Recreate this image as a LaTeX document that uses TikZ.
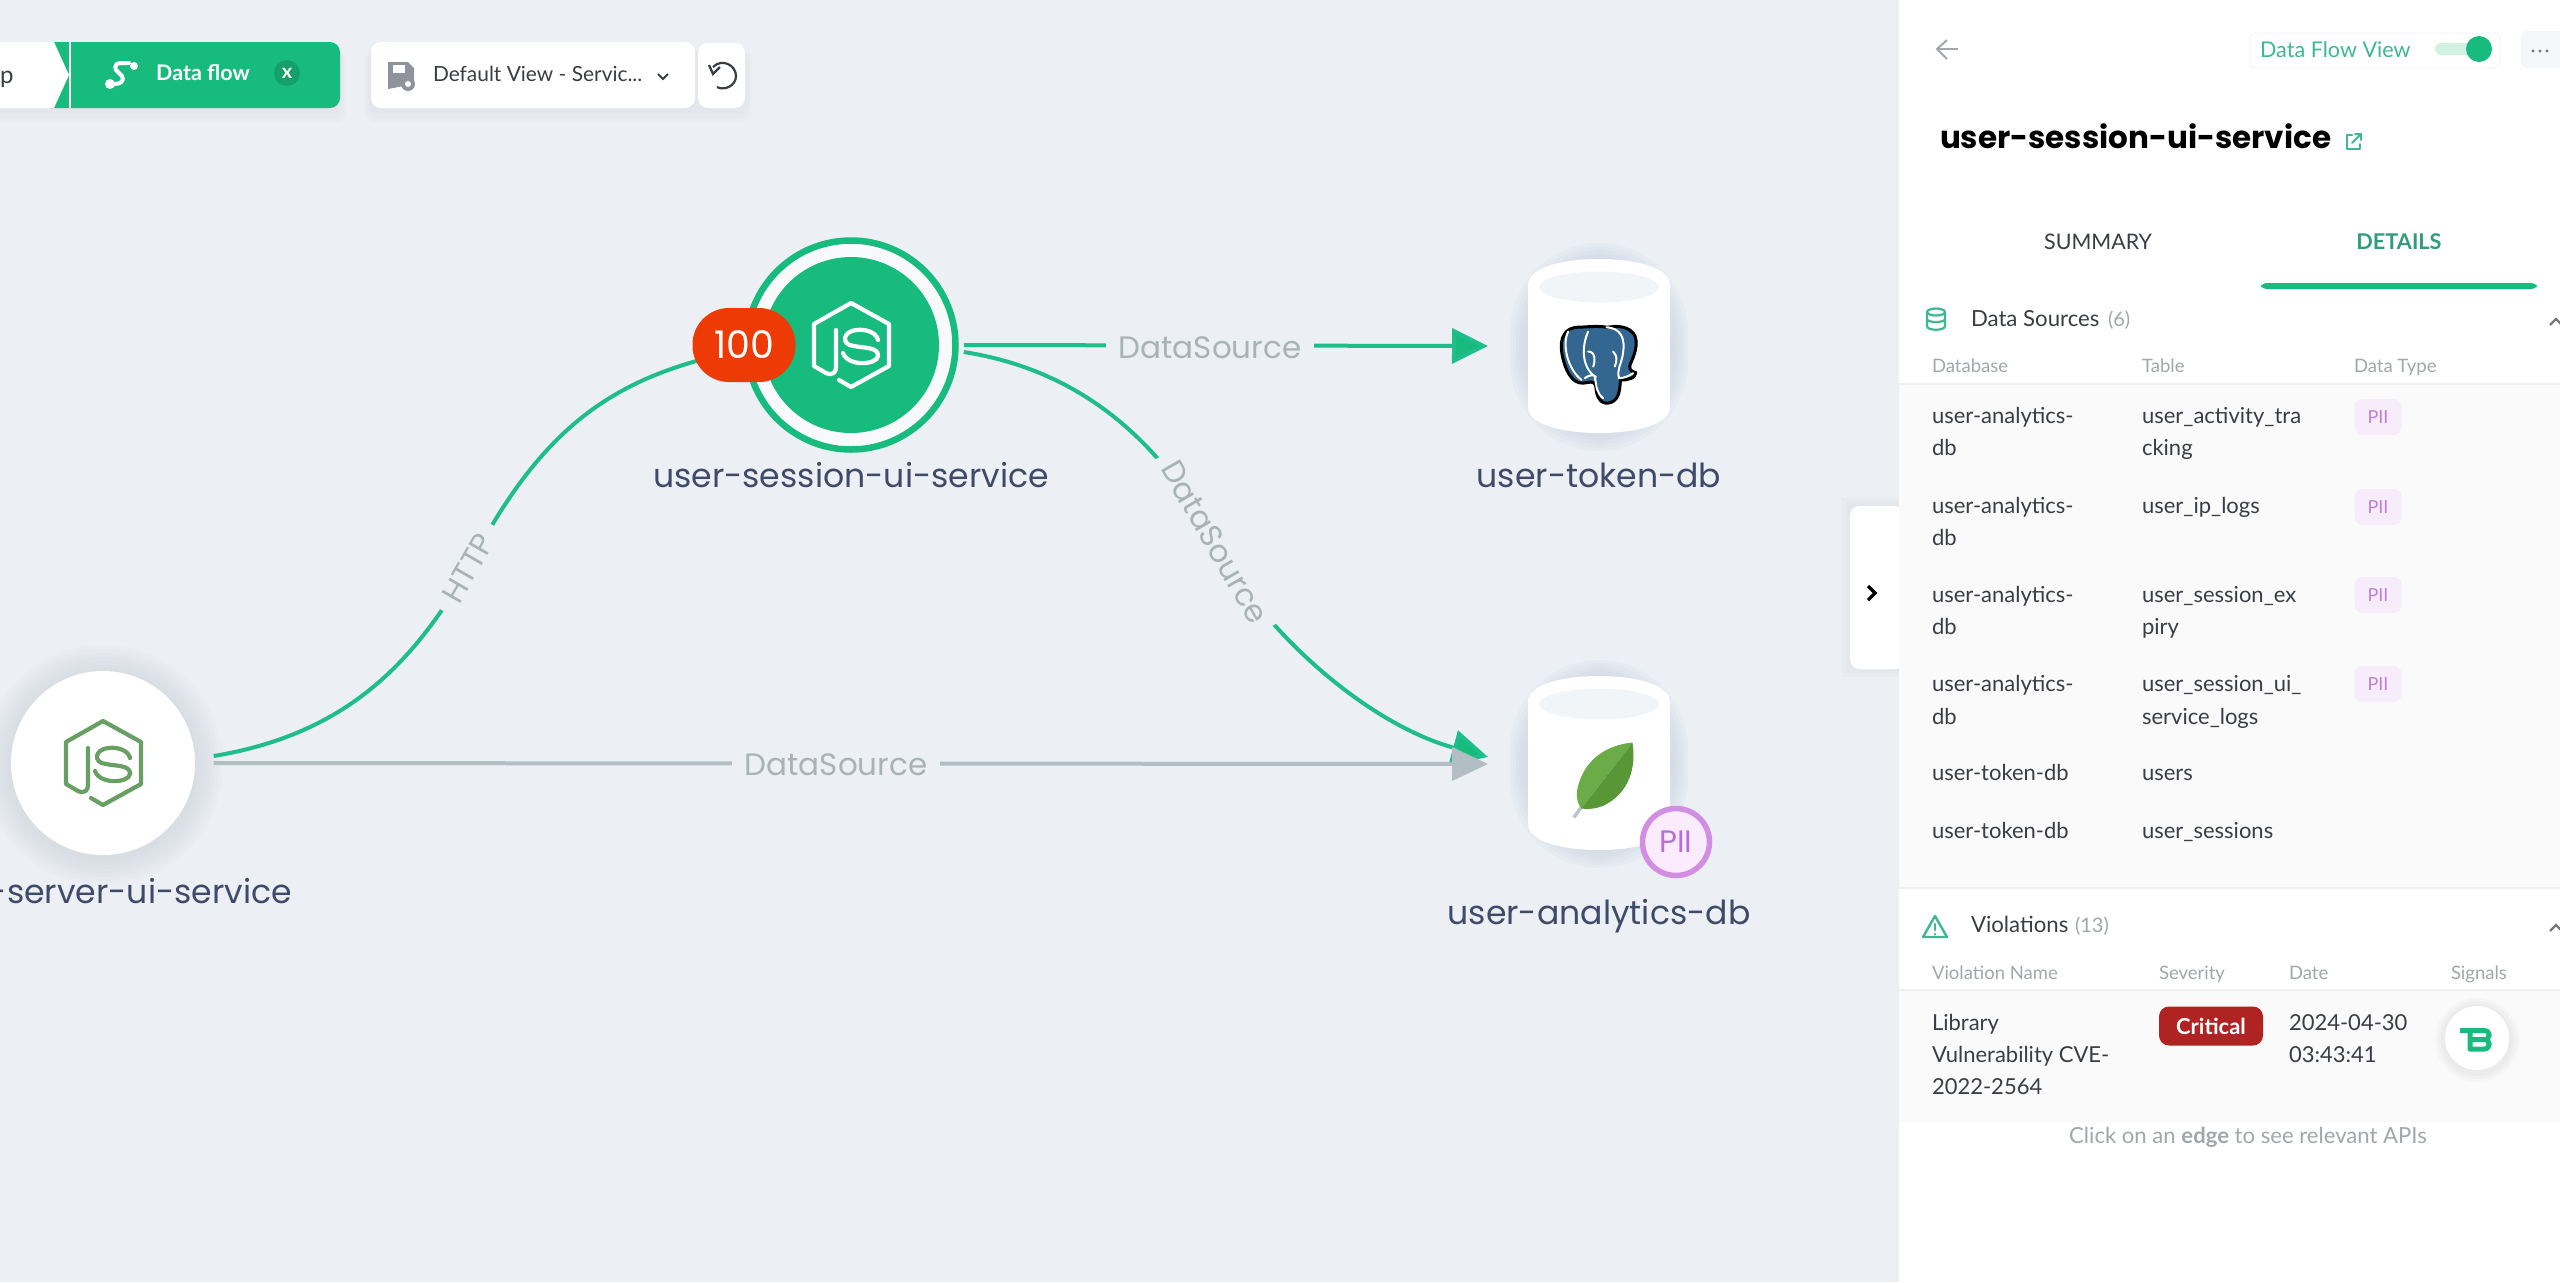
\documentclass[tikz,border=0pt]{standalone}
\usepackage{fontspec}
\usetikzlibrary{arrows.meta,calc}
\setmainfont{Lato}
\newfontfamily\pop{Poppins}
\newcommand\pxf[1]{\fontsize{\fpeval{#1*0.28453}pt}{\fpeval{#1*0.34}pt}\selectfont}
\definecolor{bgc}{HTML}{ECF0F5}
\definecolor{grn}{HTML}{17BB7E}
\definecolor{edgeg}{HTML}{1FBD8A}
\definecolor{edgeb}{HTML}{B3BEC4}
\definecolor{lblg}{HTML}{A8B2B7}
\definecolor{nlab}{HTML}{3F4A69}
\definecolor{teal}{HTML}{3CB990}
\definecolor{dark}{HTML}{3A3D42}
\definecolor{hdr}{HTML}{A2A7AB}
\definecolor{piif}{HTML}{F6ECFA}
\definecolor{piit}{HTML}{C07FD8}
\definecolor{rowb}{HTML}{FAFAFB}
\definecolor{lineg}{HTML}{EEF0F2}
\definecolor{pgb}{HTML}{336791}
\definecolor{shad}{HTML}{CFD7E4}
\definecolor{badge}{HTML}{EE3A05}
\definecolor{leafl}{HTML}{6CAC48}
\definecolor{leafd}{HTML}{589636}
\definecolor{piiring}{HTML}{D18EE2}
\definecolor{piifill}{HTML}{FAECFD}
\definecolor{piitext}{HTML}{B96FD0}
\definecolor{dotsbg}{HTML}{F4F7F9}
\definecolor{crit}{HTML}{AF2323}
\definecolor{jsg}{HTML}{689F63}
\definecolor{savei}{HTML}{8F949C}
\tikzset{
 txt/.style={inner sep=0pt,outer sep=0pt},
 nodelabel/.style={txt,text=nlab,font=\pop\pxf{33.1}},
 edgelabel/.style={inner sep=0pt,outer sep=0pt,fill=bgc,text=lblg,font=\pop\pxf{31}},
 greenedge/.style={draw=edgeg,line width=.4mm},
 grayedge/.style={draw=edgeb,line width=.4mm},
 headg/.style={-{Triangle[length=3.6mm,width=3.5mm,fill=grn]}},
 headb/.style={-{Triangle[length=3.6mm,width=3.3mm,fill=edgeb]}},
 body/.style={txt,anchor=mid west,text=dark,font=\pxf{22}},
 head/.style={txt,anchor=mid west,text=hdr,font=\pxf{18.5}},
 section/.style={txt,anchor=mid west,text=dark,font=\pxf{22.2}},
 count/.style={txt,anchor=mid west,text=hdr,font=\pxf{20}},
 piismall/.style={fill=piif,rounded corners=.8mm,text=piit,minimum width=4.7mm,minimum height=3.6mm,inner sep=0pt,font=\pxf{18}},
 iconline/.style={draw=teal,line width=.28mm,line cap=round,line join=round},
}
\newcommand\softround[5]{% cx cy r colour opacity
 \foreach \e in {28,24,20,16,12,8,4}{\fill[#4,opacity=#5] (#1,#2) circle[radius=#3+\e];}}
\newcommand\jsicon[3]{% x y colour
 \begin{scope}[shift={(#1,#2)},line width=.42mm,line join=round,line cap=round]
 \draw[#3] (-12,35) -- (0,42) -- (38,21) -- (38,-21) -- (0,-42) -- (-37,-21) -- (-37,21) -- (-25,28)
   .. controls (-18,31) and (-15,27) .. (-15,22) -- (-15,-15);
 \draw[#3] (27,-5) .. controls (25,-14) and (12,-16) .. (6,-15) .. controls (-9,-14) and (-10,0) .. (3,1)
   .. controls (12,3) and (28,2) .. (27,11) .. controls (26,20) and (-3,22) .. (-8,8);
 \end{scope}}
\newcommand\dbcyl[2]{% cx top
 \begin{scope}[shift={(#1,#2)}]
 \foreach \e in {18,15,12,9,6,3}{\fill[rounded corners=9mm,fill=shad,opacity=.2] (-71-\e,-\e+2) rectangle (71+\e,174+\e);}
 \fill[white] (-71,26) .. controls (-71,8) and (-35,0) .. (0,0) .. controls (35,0) and (71,8) .. (71,26)
   -- (71,148) .. controls (71,166) and (35,174) .. (0,174) .. controls (-35,174) and (-71,166) .. (-71,148) -- cycle;
 \fill[bgc!70!white] (0,28) ellipse[x radius=60,y radius=15.5];
 \end{scope}}
\begin{document}
\begin{tikzpicture}[x=.1mm,y=-.1mm]
\useasboundingbox (0,0) rectangle (2560,1282);
\clip (0,0) rectangle (2560,1282);
\fill[bgc] (0,0) rectangle (2560,1282);

% toolbar
\foreach \e in {12,8,4}{\fill[black!30!bgc,opacity=.035,rounded corners=1mm] (-20,50) rectangle (340+\e/2,110+\e);
  \fill[black!30!bgc,opacity=.035,rounded corners=1mm] (371-\e/2,50) rectangle (745+\e/2,110+\e);}
\fill[grn,rounded corners=1mm] (40,42) -- (340,42) -- (340,108) -- (40,108) -- cycle;
\fill[white] (0,42) -- (54,42) -- (69,75) -- (54,108) -- (0,108) -- cycle;
\draw[white,line width=.12mm] (70,42) -- (70,108);
\node[txt,text=dark,anchor=mid west,font=\pxf{24}] (crumb) at (0,75) {p};
\draw[white,line width=.4mm,line cap=round,line join=round] (129,63) -- (120,63) .. controls (114,63) and (114,70) .. (118,72) -- (122,76) .. controls (125,81) and (120,84) .. (115,84) -- (110,84);
\fill[white] (110,84) circle[radius=5] (134,66) circle[radius=4];
\node[txt,text=white,font=\bfseries\pxf{21.5}] (dflow) at (203,73) {Data flow};
\node[circle,fill=grn!85!black,minimum size=2.6mm,inner sep=0pt,text=white,font=\bfseries\pxf{20}] (dclose) at (287,73) {x};
\fill[white,rounded corners=1mm] (371,42) rectangle (695,108);
\fill[white,rounded corners=1mm] (698,43) rectangle (745,108);
\fill[savei] (388,62) -- (408,62) -- (414,68) -- (414,84) -- (388,89) -- cycle;
\fill[white] (393,65) rectangle (405,73);
\fill[savei] (408,84) circle[radius=7];
\fill[white] (408,84) circle[radius=3];
\node[txt,anchor=mid west,text=dark,font=\pxf{20.9}] (viewname) at (433,73) {Default View - Servic...};
\draw[dark,line width=.2mm] (658,74) -- (663,79) -- (668,74);
\draw[dark,line width=.22mm] (713,67) .. controls (722,58) and (736,65) .. (736,76) .. controls (736,86) and (724,91) .. (717,87);
\draw[dark,line width=.22mm] (709,65) -- (713,74) -- (720,67);

% nodes
\node[circle,draw=grn,fill=white!60!bgc,line width=.65mm,minimum size=20.9mm,inner sep=0pt] (sess) at (851,345) {};
\node[circle,fill=grn,minimum size=17.6mm,inner sep=0pt] (sessdisc) at (851,345) {};
\jsicon{851}{345}{white}
\softround{103}{765}{92}{shad!70!gray}{.05}
\node[circle,fill=white,minimum size=18.4mm,inner sep=0pt] (srv) at (103,763) {};
\jsicon{103}{763}{jsg}
\dbcyl{1599}{259}
\dbcyl{1599}{676}
\coordinate (token) at (1528,346);
\coordinate (analytics) at (1528,757);
\coordinate (analyticsb) at (1528,764);
\coordinate (sessout) at ($(sess.east)+(5,0)$);
\coordinate (sessoutb) at ($(sess.east)+(5,7)$);
\coordinate (srvout) at ($(srv.east)+(18,-7)$);
\coordinate (srvoutb) at ($(srv.east)+(18,0)$);

% labels of nodes
\node[nodelabel] (lsess) at (851,475) {user-session-ui-service};
\node[nodelabel] (ltoken) at (1599,475) {user-token-db};
\node[nodelabel] (lana) at (1599,916) {user-analytics-db};
\node[nodelabel,anchor=mid east] (lsrv) at (292,895) {-server-ui-service};

% edges
\draw[greenedge] (srvout) .. controls (340,735) and (410,670) .. (468,568)
  .. controls (530,450) and (590,390) .. (700,360);
\node[edgelabel,rotate=60,inner xsep=1.3mm,inner ysep=.2mm] (lhttp) at (468,568) {HTTP};
\draw[greenedge,headg] (sessout) -- ($(token)+(-40,0)$);
\node[edgelabel,inner xsep=1.3mm,inner ysep=.6mm] (lds1) at (1210,348) {DataSource};
\draw[greenedge,headg] (sessoutb) .. controls (1080,370) and (1160,440) .. (1215,542)
  .. controls (1265,635) and (1370,725) .. ($(analytics)+(-40,0)$);
\node[edgelabel,rotate=-60,inner xsep=1mm,inner ysep=.2mm] (lds2) at (1215,542) {DataSource};
\draw[grayedge,headb] (srvoutb) -- ($(analyticsb)+(-40,0)$);
\node[edgelabel,inner xsep=1.3mm,inner ysep=.6mm] (lds3) at (836,765) {DataSource};

% badge
\node[rounded corners=3.65mm,fill=badge,minimum width=10.3mm,minimum height=7.4mm,inner sep=0pt,text=white,font=\pop\pxf{38}] (b100) at (744,345) {100};

% logos
\begin{scope}[shift={(1440,230)},x=.0333mm,y=-.0333mm]
 \draw[black,fill=pgb,line width=.3mm,line join=round]
  (420,292) .. controls (375,290) and (358,325) .. (366,370) .. controls (375,420) and (395,462) .. (430,460)
  .. controls (450,458) and (462,450) .. (468,470) .. controls (470,500) and (480,522) .. (505,520)
  .. controls (535,515) and (540,490) .. (542,450) .. controls (560,452) and (590,445) .. (588,428)
  .. controls (570,425) and (565,415) .. (575,395) .. controls (595,350) and (598,310) .. (560,295)
  .. controls (530,285) and (515,292) .. (500,292) .. controls (480,288) and (450,290) .. (420,292) -- cycle;
 \draw[white,line width=.2mm,line cap=round]
  (445,305) .. controls (425,350) and (425,410) .. (465,440) .. controls (470,470) and (470,490) .. (490,505)
  (500,292) .. controls (540,295) and (560,320) .. (548,380) .. controls (545,400) and (530,420) .. (538,445) .. controls (550,445) and (565,440) .. (580,430)
  (520,365) .. controls (535,380) and (530,395) .. (525,410)
  (445,365) .. controls (470,365) and (465,400) .. (460,410)
  (385,305) .. controls (365,345) and (385,420) .. (425,450)
  (435,445) .. controls (455,430) and (475,435) .. (465,450);
\end{scope}
\begin{scope}[shift={(1440,650)},x=.0333mm,y=-.0333mm]
 \draw[edgeb!90!white,line width=.35mm] (402,503) -- (430,465);
 \fill[leafl] (578,278) .. controls (500,285) and (430,330) .. (412,420) .. controls (408,445) and (415,465) .. (425,476) -- cycle;
 \fill[leafd] (578,278) .. controls (590,350) and (570,430) .. (490,468) .. controls (470,476) and (445,480) .. (425,476) -- cycle;
\end{scope}
\node[circle,draw=piiring,fill=piifill,line width=.55mm,minimum size=6.7mm,inner sep=0pt,text=piitext,font=\pop\pxf{31}] (pii) at (1676,842) {PII};

% collapse tab
\foreach \e in {8,4}{\fill[black!30!bgc,opacity=.05] (1850-\e,506-\e) rectangle (1900,669+\e);}
\fill[white,rounded corners=1mm] (1850,506) -- (1905,506) -- (1905,669) -- (1850,669) -- cycle;
\draw[black,line width=.32mm] (1868,586) -- (1875,593) -- (1868,600);

% panel
\fill[white] (1899,0) rectangle (2560,1282);
\draw[hdr,line width=.2mm] (1958,49) -- (1938,49);
\draw[hdr,line width=.2mm] (1947,40) -- (1937,49) -- (1947,59);
\draw[black!4,fill=white,line width=.1mm,rounded corners=.5mm] (2250,33) rectangle (2500,68);
\node[txt,anchor=mid west,text=teal,font=\pxf{21.6}] (dfv) at (2260,49) {Data Flow View};
\fill[grn!20!white,rounded corners=.6mm] (2435,43) rectangle (2480,55);
\fill[grn] (2479,49) circle[radius=13];
\fill[dotsbg,rounded corners=.5mm] (2521,31) rectangle (2570,68);
\fill[dark!70] (2533,51) circle[radius=1.7] (2540,51) circle[radius=1.7] (2547,51) circle[radius=1.7];
\node[txt,anchor=mid west,text=black,font=\pop\bfseries\pxf{31}] (title) at (1940,140) {user-session-ui-service};
\draw[iconline,line width=.2mm] (2352,135) -- (2347,135) -- (2347,149) -- (2360,149) -- (2360,144);
\draw[iconline,line width=.2mm] (2352,143) -- (2361,134) (2355,134) -- (2361,134) -- (2361,140);
\node[txt,text=dark,font=\pxf{21.4}] (tabs) at (2098,242) {SUMMARY};
\node[txt,text=teal!85!black,font=\bfseries\pxf{21.7}] (tabd) at (2399,242) {DETAILS};
\fill[grn,rounded corners=.5mm] (2261,289) -- (2261,283) -- (2537,283) -- (2537,289) -- cycle;

% data sources
\fill[rowb] (1899,384) rectangle (2560,888);
\draw[lineg,line width=.2mm] (1899,384) -- (2560,384);
\draw[lineg,line width=.2mm] (1899,888) -- (2560,888);
\draw[iconline,line width=.22mm] (1936,312) ellipse[x radius=9,y radius=3.5];
\draw[iconline,line width=.22mm] (1927,312) -- (1927,326) .. controls (1927,331) and (1945,331) .. (1945,326) -- (1945,312);
\draw[iconline,line width=.22mm] (1927,319) .. controls (1927,323) and (1945,323) .. (1945,319);
\node[section] (ds) at (1971,318) {Data Sources};
\node[count] (dsn) at (2108,318) {(6)};
\draw[dark!70,line width=.22mm] (2550,325) -- (2556,319) -- (2562,325);
\node[head] (h1) at (1932,364) {Database};
\node[head] (h2) at (2142,364) {Table};
\node[head] (h3) at (2354,364) {Data Type};
\node[body] (a1) at (1932,415) {user-analytics-};
\node[body] (a1b) at (1932,447) {db};
\node[body] (t1) at (2142,415) {user\_activity\_tra};
\node[body] (t1b) at (2142,447) {cking};
\node[piismall] (p1) at (2378,417) {PII};
\node[body] (a2) at (1932,505) {user-analytics-};
\node[body] (a2b) at (1932,537) {db};
\node[body] (t2) at (2142,505) {user\_ip\_logs};
\node[piismall] (p2) at (2378,507) {PII};
\node[body] (a3) at (1932,594) {user-analytics-};
\node[body] (a3b) at (1932,626) {db};
\node[body] (t3) at (2142,594) {user\_session\_ex};
\node[body] (t3b) at (2142,626) {piry};
\node[piismall] (p3) at (2378,595) {PII};
\node[body] (a4) at (1932,683) {user-analytics-};
\node[body] (a4b) at (1932,716) {db};
\node[body] (t4) at (2142,683) {user\_session\_ui\_};
\node[body] (t4b) at (2142,716) {service\_logs};
\node[piismall] (p4) at (2378,684) {PII};
\node[body] (a5) at (1932,772) {user-token-db};
\node[body] (t5) at (2142,772) {users};
\node[body] (a6) at (1932,830) {user-token-db};
\node[body] (t6) at (2142,830) {user\_sessions};

% violations
\fill[rowb] (1899,990) rectangle (2560,1122);
\draw[lineg,line width=.2mm] (1899,990) -- (2560,990);
\draw[iconline,line width=.24mm] (1935,916) -- (1923,937) -- (1947,937) -- cycle;
\draw[iconline,line width=.22mm] (1935,924) -- (1935,930) (1935,934) -- (1935,934.5);
\node[section] (vi) at (1971,924) {Violations};
\node[count] (vin) at (2075,924) {(13)};
\draw[dark!70,line width=.22mm] (2550,931) -- (2556,925) -- (2562,931);
\node[head] (v1) at (1932,971) {Violation Name};
\node[head] (v2) at (2159,971) {Severity};
\node[head] (v3) at (2289,971) {Date};
\node[head] (v4) at (2451,971) {Signals};
\node[body] (n1) at (1932,1022) {Library};
\node[body] (n2) at (1932,1054) {Vulnerability CVE-};
\node[body] (n3) at (1932,1086) {2022-2564};
\node[fill=crit,rounded corners=1mm,minimum width=10.4mm,minimum height=3.9mm,inner sep=0pt,text=white,font=\bfseries\pxf{22}] (critb) at (2211,1026) {Critical};
\node[body] (d1) at (2289,1022) {2024-04-30};
\node[body] (d2) at (2289,1054) {03:43:41};
\foreach \e in {10,7,4}{\fill[black,opacity=.02] (2477,1040) circle[radius=32+\e];}
\node[circle,fill=white,minimum size=6.4mm,inner sep=0pt] (sig) at (2477,1038) {};
\draw[grn,line width=.5mm,line join=round] (2460,1030.5) -- (2484,1030.5) .. controls (2491,1030.5) and (2491,1039.5) .. (2484,1039.5) -- (2472,1039.5)
 (2470,1030.5) -- (2470,1049) -- (2484,1049) .. controls (2491,1049) and (2491,1039.5) .. (2484,1039.5);
\node[txt,text=hdr,font=\pxf{22.1}] (hint) at (2248,1137) {Click on an \textbf{edge} to see relevant APIs};
\end{tikzpicture}
\end{document}
